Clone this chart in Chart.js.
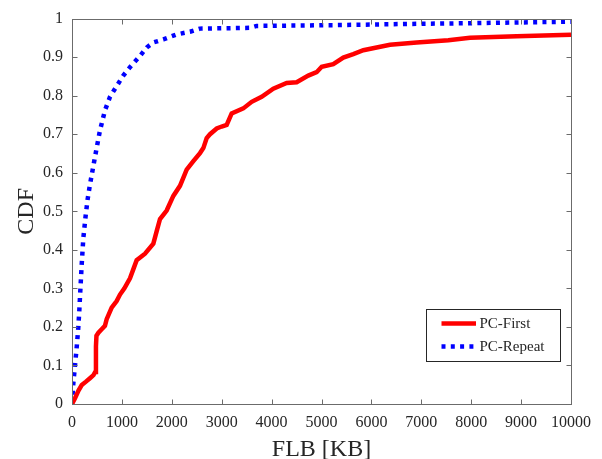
<!DOCTYPE html>
<html>
<head>
<meta charset="utf-8">
<script src="https://cdn.jsdelivr.net/npm/chart.js@4.4.1/dist/chart.umd.min.js"></script>
<style>
  html, body { margin: 0; padding: 0; background: #fff; }
  #wrap { width: 602px; height: 459px; }
</style>
</head>
<body>
<div id="wrap"><canvas id="cdf" width="602" height="459"></canvas></div>
<script>
// CDF of FLB sizes, first vs repeat page loads
const firstKB = [0, 60, 130, 195, 280, 360, 430, 465, 480, 490, 530, 595, 660, 695, 795, 895, 962, 1050, 1162, 1230, 1296, 1463, 1630, 1700, 1764, 1897, 2031, 2164, 2298, 2432, 2565, 2632, 2699, 2766, 2900, 3000, 3100, 3200, 3433, 3601, 3801, 4034, 4302, 4502, 4735, 4903, 5004, 5236, 5437, 5637, 5838, 6105, 6373, 6907, 7542, 7976, 8911, 10000];
const firstCDF = [0, 0.015, 0.035, 0.049, 0.058, 0.067, 0.075, 0.083, 0.15, 0.177, 0.185, 0.194, 0.203, 0.22, 0.25, 0.267, 0.284, 0.30, 0.326, 0.35, 0.373, 0.39, 0.416, 0.45, 0.48, 0.502, 0.54, 0.566, 0.608, 0.63, 0.651, 0.664, 0.69, 0.70, 0.715, 0.72, 0.724, 0.754, 0.767, 0.784, 0.797, 0.818, 0.833, 0.835, 0.852, 0.861, 0.875, 0.882, 0.899, 0.908, 0.918, 0.925, 0.932, 0.938, 0.944, 0.95, 0.954, 0.958];

const repeatKB = [0, 26, 60, 94, 126, 146, 165, 194, 226, 274, 314, 361, 427, 495, 561, 661, 762, 862, 1028, 1162, 1363, 1497, 1630, 1830, 2098, 2365, 2565, 3567, 3701, 5230, 6673, 7910, 10000];
const repeatCDF = [0, 0.053, 0.10, 0.147, 0.198, 0.241, 0.29, 0.361, 0.429, 0.489, 0.532, 0.57, 0.617, 0.665, 0.71, 0.762, 0.797, 0.818, 0.852, 0.874, 0.903, 0.925, 0.938, 0.946, 0.959, 0.966, 0.974, 0.976, 0.981, 0.983, 0.986, 0.988, 0.992];

const xTicks = [0, 1000, 2000, 3000, 4000, 5000, 6000, 7000, 8000, 9000, 10000];
const yTicks = [0, 0.1, 0.2, 0.3, 0.4, 0.5, 0.6, 0.7, 0.8, 0.9, 1];

const serif = 'Liberation Serif, Times New Roman, serif';
const axisColor = '#6b6b6b';

const toPoints = (xs, ys) => xs.map((x, i) => ({ x: x, y: ys[i] }));

// box, inward ticks, axis titles and legend, MATLAB style
const framePlugin = {
    id: 'frame',
    afterDraw(chart) {
        const ctx = chart.ctx;
        const a = chart.chartArea;
        const xs = chart.scales.x, ys = chart.scales.y;
        const L = Math.round(a.left) + 0.5, R = Math.round(a.right) + 0.5;
        const T = Math.round(a.top) + 0.5, B = Math.round(a.bottom) + 0.5;
        const tl = 5;

        ctx.save();
        ctx.strokeStyle = axisColor;
        ctx.lineWidth = 1;
        ctx.strokeRect(L, T, R - L, B - T);
        ctx.beginPath();
        xTicks.forEach(v => {
            const px = Math.round(xs.getPixelForValue(v)) + 0.5;
            ctx.moveTo(px, B); ctx.lineTo(px, B - tl);
            ctx.moveTo(px, T); ctx.lineTo(px, T + tl);
        });
        yTicks.forEach(v => {
            const py = Math.round(ys.getPixelForValue(v)) + 0.5;
            ctx.moveTo(L, py); ctx.lineTo(L + tl, py);
            ctx.moveTo(R, py); ctx.lineTo(R - tl, py);
        });
        ctx.stroke();

        // axis titles
        ctx.fillStyle = '#262626';
        ctx.font = '24px ' + serif;
        ctx.textAlign = 'center';
        ctx.textBaseline = 'alphabetic';
        ctx.fillText('FLB [KB]', (a.left + a.right) / 2, 456);
        ctx.save();
        ctx.translate(33, (a.top + a.bottom) / 2);
        ctx.rotate(-Math.PI / 2);
        ctx.fillText('CDF', 0, 0);
        ctx.restore();

        // legend
        const bx = 426.5, by = 309.5, bw = 134, bh = 52;
        ctx.fillStyle = '#fff';
        ctx.fillRect(bx, by, bw, bh);
        ctx.strokeStyle = '#262626';
        ctx.strokeRect(bx, by, bw, bh);
        ctx.font = '15px ' + serif;
        ctx.textAlign = 'left';
        ctx.textBaseline = 'middle';
        const rows = [323.5, 346.5];
        chart.data.datasets.forEach((ds, i) => {
            const y = rows[i];
            ctx.save();
            ctx.strokeStyle = ds.borderColor;
            ctx.lineWidth = ds.borderWidth;
            ctx.setLineDash(ds.borderDash || []);
            ctx.lineCap = 'butt';
            ctx.beginPath();
            ctx.moveTo(441.5, y);
            ctx.lineTo(476, y);
            ctx.stroke();
            ctx.restore();
            ctx.fillStyle = '#262626';
            ctx.fillText(ds.label, 479.5, y + 1);
        });
        ctx.restore();
    }
};

new Chart(document.getElementById('cdf'), {
    type: 'line',
    data: {
        datasets: [
            {
                label: 'PC-First',
                data: toPoints(firstKB, firstCDF),
                borderColor: '#ff0000',
                borderWidth: 4.5,
                pointRadius: 0,
                tension: 0,
                fill: false
            },
            {
                label: 'PC-Repeat',
                data: toPoints(repeatKB, repeatCDF),
                borderColor: '#0000ff',
                borderWidth: 4.5,
                borderDash: [4, 5.3],
                borderCapStyle: 'butt',
                pointRadius: 0,
                tension: 0,
                fill: false
            }
        ]
    },
    options: {
        responsive: false,
        animation: false,
        devicePixelRatio: 1,
        layout: { padding: { top: 14, right: 31, left: 0, bottom: 0 } },
        plugins: {
            legend: { display: false },
            tooltip: { enabled: false }
        },
        scales: {
            x: {
                type: 'linear',
                min: 0,
                max: 10000,
                afterBuildTicks: s => { s.ticks = xTicks.map(v => ({ value: v })); },
                afterFit: s => { s.height = 55; },
                grid: { display: false, drawTicks: false },
                border: { display: false },
                ticks: {
                    padding: 9,
                    maxRotation: 0,
                    color: '#262626',
                    font: { family: serif, size: 16 },
                    callback: v => String(v)
                }
            },
            y: {
                type: 'linear',
                min: 0,
                max: 1,
                afterBuildTicks: s => { s.ticks = yTicks.map(v => ({ value: v })); },
                afterFit: s => { s.width = 72; },
                grid: { display: false, drawTicks: false },
                border: { display: false },
                ticks: {
                    padding: 9,
                    color: '#262626',
                    font: { family: serif, size: 16 },
                    callback: v => String(Number(v.toFixed(1)))
                }
            }
        }
    },
    plugins: [framePlugin]
});
</script>
</body>
</html>
